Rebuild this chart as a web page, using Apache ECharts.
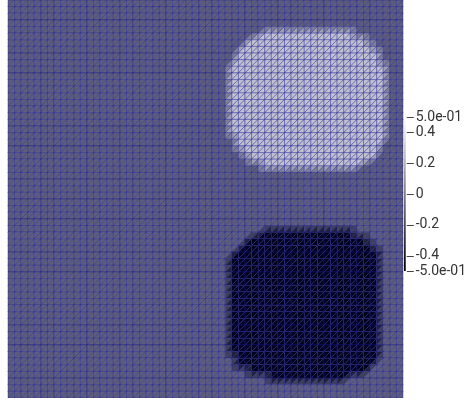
<!DOCTYPE html>
<html>
<head>
<meta charset="utf-8">
<script src="https://cdn.jsdelivr.net/npm/echarts@6/dist/echarts.min.js"></script>
<style>html,body{margin:0;padding:0;background:#fff;}#main{width:469px;height:398px;}</style>
</head>
<body>
<div id="main"></div>
<script>
// mesh resolution (cells per side)
const meshCells = 60;
const backgroundValue = 0;
// light blob: [vertexRow, firstCol, lastCol]
const lightBlobValue = 0.4;
const lightBlobRows = [
  [5,39,52],[6,37,54],[7,36,55],[8,35,56],[9,35,56],
  [10,34,57],[11,34,57],[12,34,57],[13,34,57],[14,34,57],[15,34,57],
  [16,34,57],[17,34,57],[18,34,57],[19,34,57],[20,34,57],[21,35,57],
  [22,35,56],[23,36,56],[24,37,55],[25,39,53]
];
// dark blob: [vertexRow, firstCol, lastCol]
const darkBlobValue = -0.5;
const darkBlobRows = [
  [35,39,52],[36,37,54],[37,36,55],[38,35,56],[39,34,56],
  [40,34,56],[41,34,56],[42,34,56],[43,34,56],[44,34,56],[45,34,56],
  [46,34,56],[47,34,56],[48,34,56],[49,34,56],[50,34,56],[51,34,56],
  [52,34,56],[53,34,56],[54,35,56],[55,35,55],[56,37,54],[57,40,51]
];
// colorbar
const colorMin = -0.5, colorMax = 0.5;
const colorbarTickValues = [-0.5,-0.4,-0.2,0,0.2,0.4,0.5];
const colorbarTickLabels = ['-5.0e-01','-0.4','-0.2','0','0.2','0.4','5.0e-01'];

// vertex values
const V = [];
for (let r = 0; r <= meshCells; r++) { V.push(new Array(meshCells + 1).fill(backgroundValue)); }
[[lightBlobRows, lightBlobValue],[darkBlobRows, darkBlobValue]].forEach(([rows, val]) => {
  rows.forEach(([r, c0, c1]) => { for (let c = c0; c <= c1; c++) V[r][c] = val; });
});
// triangles: type 0 upper-left, type 1 lower-right (diagonal "/")
const tri = [];
for (let r = 0; r < meshCells; r++) {
  for (let c = 0; c < meshCells; c++) {
    tri.push([c, r, (V[r][c] + V[r][c+1] + V[r+1][c]) / 3, 0]);
    tri.push([c, r, (V[r][c+1] + V[r+1][c+1] + V[r+1][c]) / 3, 1]);
  }
}

const chart = echarts.init(document.getElementById('main'), null, {renderer: 'canvas'});
chart.setOption({
  animation: false,
  grid: [
    {left: 8, top: 0, width: 395, height: 398},
    {left: 404, top: 117, width: 7, height: 154}
  ],
  xAxis: [
    {gridIndex: 0, type: 'value', min: 0, max: meshCells, show: false},
    {gridIndex: 1, type: 'value', min: 0, max: 1, show: false}
  ],
  yAxis: [
    {gridIndex: 0, type: 'value', min: 0, max: meshCells, inverse: true, show: false},
    {gridIndex: 1, type: 'value', min: colorMin, max: colorMax, position: 'right',
     axisLine: {show: false}, splitLine: {show: false}, axisTick: {show: false},
     axisLabel: {show: true, margin: 10, color: '#333', fontFamily: 'Roboto', fontSize: 14,
       customValues: colorbarTickValues, showMinLabel: true, showMaxLabel: true,
       formatter: (v) => { const i = colorbarTickValues.findIndex(t => Math.abs(t - v) < 1e-9); return i >= 0 ? colorbarTickLabels[i] : ''; }}
    }
  ],
  visualMap: {
    show: false, type: 'continuous', seriesIndex: 0, dimension: 2,
    min: colorMin, max: colorMax, inRange: {color: ['#02021c', '#5e5e7c', '#dadae6']}
  },
  series: [
    {
      type: 'custom', xAxisIndex: 0, yAxisIndex: 0, progressive: 0,
      data: tri,
      renderItem: (params, api) => {
        const c = api.value(0), r = api.value(1), t = api.value(3);
        const pts = t === 0
          ? [api.coord([c, r]), api.coord([c+1, r]), api.coord([c, r+1])]
          : [api.coord([c+1, r]), api.coord([c+1, r+1]), api.coord([c, r+1])];
        return {type: 'polygon', shape: {points: pts},
          style: {fill: api.visual('color'), stroke: 'rgba(30,30,145,0.6)', lineWidth: 0.7}};
      }
    },
    {
      type: 'custom', xAxisIndex: 1, yAxisIndex: 1, data: [[0]],
      renderItem: (params, api) => {
        const cs = params.coordSys;
        return {type: 'rect', shape: {x: cs.x, y: cs.y, width: cs.width, height: cs.height},
          style: {fill: new echarts.graphic.LinearGradient(0, 1, 0, 0, [{offset: 0, color: '#000'}, {offset: 1, color: '#fff'}])}};
      }
    },
    {
      type: 'custom', xAxisIndex: 1, yAxisIndex: 1,
      data: colorbarTickValues.map(v => [1, v]),
      renderItem: (params, api) => {
        const p = api.coord([api.value(0), api.value(1)]);
        const x0 = params.coordSys.x + params.coordSys.width + 1;
        const y = Math.round(p[1]) + 0.5;
        return {type: 'line', shape: {x1: x0, y1: y, x2: x0 + 7, y2: y},
          style: {stroke: '#444', lineWidth: 1}};
      }
    }
  ]
});
</script>
</body>
</html>
